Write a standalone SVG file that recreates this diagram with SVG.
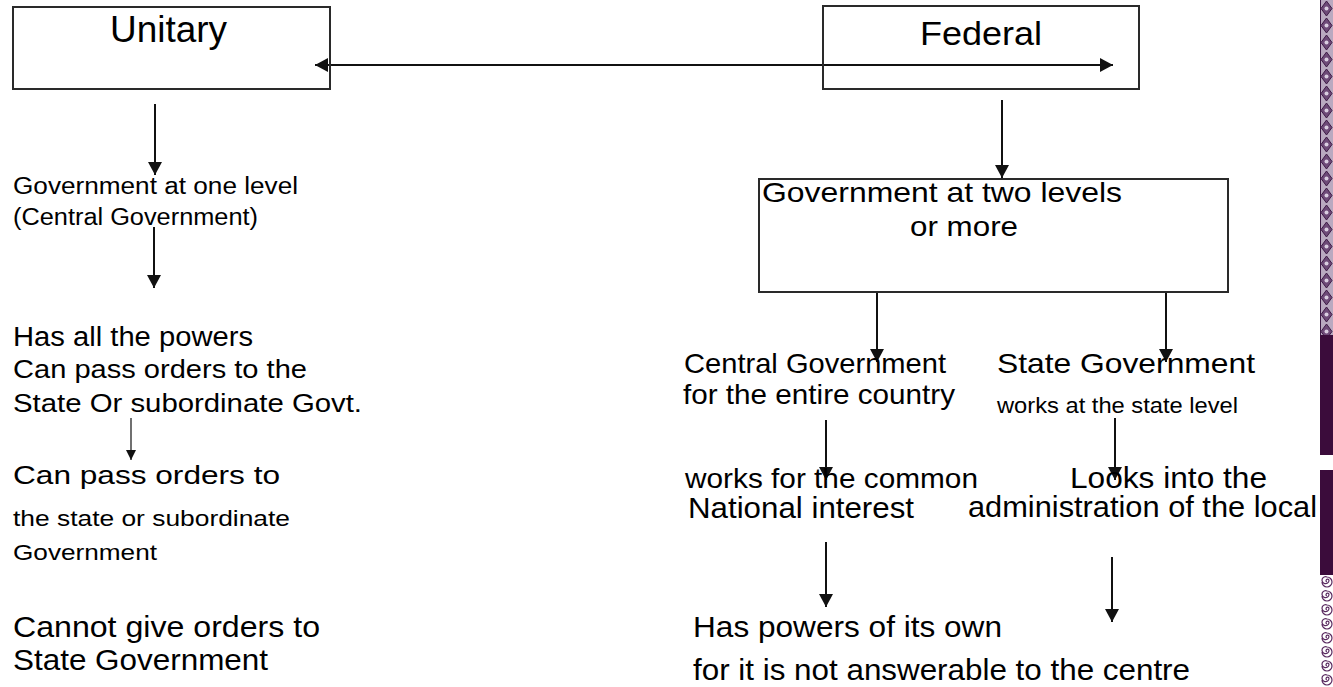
<svg xmlns="http://www.w3.org/2000/svg" width="1333" height="687" viewBox="0 0 1333 687">
<style>
text{font-family:"Liberation Sans",Arial,sans-serif;fill:#000}
.box{fill:none;stroke:#2a2a2a;stroke-width:2}
.ar{stroke:#111;stroke-width:2;fill:none;marker-end:url(#ah)}
.ars{stroke:#111;stroke-width:1.2;fill:none;marker-end:url(#ahs)}
</style>
<defs>
<marker id="ah" markerUnits="userSpaceOnUse" markerWidth="14" markerHeight="14" refX="13" refY="7" orient="auto-start-reverse"><path d="M0,0 L13,7 L0,14 z" fill="#111"/></marker>
<marker id="ahs" markerUnits="userSpaceOnUse" markerWidth="10" markerHeight="10" refX="10" refY="5" orient="auto"><path d="M0,0 L10,5 L0,10 z" fill="#111"/></marker>
<pattern id="tiles" patternUnits="userSpaceOnUse" x="1320" y="0" width="13" height="17">
<rect width="13" height="17" fill="#b9a9c0"/>
<path d="M6.5,1 L12,8.5 L6.5,16 L1,8.5 z" fill="#6e4a78" stroke="#3d1a45" stroke-width="1"/>
<circle cx="6.5" cy="8.5" r="2" fill="#d9cde0"/>
</pattern>
<pattern id="spir" patternUnits="userSpaceOnUse" x="1320" y="575" width="13" height="14">
<rect width="13" height="14" fill="#fff"/>
<path d="M7,7 a1.5,1.5 0 1,1 2,-1.5 a3.5,3.5 0 1,1 -2,-3.5 a5,5 0 1,1 -5,5" fill="none" stroke="#5a2a60" stroke-width="1.2"/>
</pattern>
</defs>

<g id="strip">
<rect x="1320" y="0" width="13" height="335" fill="url(#tiles)"/>
<line x1="1320.5" y1="0" x2="1320.5" y2="335" stroke="#3d1a45" stroke-width="1"/>
<rect x="1320" y="335" width="13" height="120" fill="#3b0c3b"/>
<rect x="1320" y="470" width="13" height="105" fill="#3b0c3b"/>
<rect x="1320" y="575" width="13" height="112" fill="url(#spir)"/>
</g>

<g id="connectors">
<line class="ar" x1="315" y1="65" x2="1113" y2="65" marker-start="url(#ah)"/>
<line class="ar" x1="155" y1="104" x2="155" y2="175"/>
<line class="ar" x1="154" y1="227" x2="154" y2="288"/>
<line class="ars" x1="131" y1="418" x2="131" y2="460"/>
<line class="ar" x1="1002" y1="100" x2="1002" y2="178"/>
<line class="ar" x1="877" y1="292" x2="877" y2="362"/>
<line class="ar" x1="1166" y1="292" x2="1166" y2="362"/>
<line class="ar" x1="826" y1="420" x2="826" y2="480"/>
<line class="ar" x1="1115" y1="418" x2="1115" y2="480"/>
<line class="ar" x1="826" y1="542" x2="826" y2="607"/>
<line class="ar" x1="1112" y1="557" x2="1112" y2="622"/>
</g>

<g id="unitary">
<rect class="box" x="13" y="7" width="317" height="82"/>
<text x="110" y="42" font-size="36" textLength="117" lengthAdjust="spacingAndGlyphs">Unitary</text>
</g>

<g id="federal">
<rect class="box" x="823" y="6" width="316" height="83"/>
<text x="920" y="45" font-size="34" textLength="122" lengthAdjust="spacingAndGlyphs">Federal</text>
</g>

<g id="unitary-chain">
<text x="13" y="194" font-size="23" textLength="285" lengthAdjust="spacingAndGlyphs">Government at one level</text>
<text x="13" y="225" font-size="23" textLength="245" lengthAdjust="spacingAndGlyphs">(Central Government)</text>
<text x="13" y="346" font-size="27" textLength="240" lengthAdjust="spacingAndGlyphs">Has all the powers</text>
<text x="13" y="378" font-size="26" textLength="294" lengthAdjust="spacingAndGlyphs">Can pass orders to the</text>
<text x="13" y="412" font-size="26" textLength="349" lengthAdjust="spacingAndGlyphs">State Or subordinate Govt.</text>
<text x="13" y="484" font-size="26" textLength="267" lengthAdjust="spacingAndGlyphs">Can pass orders to</text>
<text x="13" y="526" font-size="22" textLength="277" lengthAdjust="spacingAndGlyphs">the state or subordinate</text>
<text x="13" y="560" font-size="22" textLength="144" lengthAdjust="spacingAndGlyphs">Government</text>
<text x="13" y="637" font-size="29" textLength="307" lengthAdjust="spacingAndGlyphs">Cannot give orders to</text>
<text x="13" y="670" font-size="29" textLength="255" lengthAdjust="spacingAndGlyphs">State Government</text>
</g>

<g id="two-levels">
<rect class="box" x="759" y="179" width="469" height="113"/>
<text x="762" y="202" font-size="28" textLength="360" lengthAdjust="spacingAndGlyphs">Government at two levels</text>
<text x="910" y="236" font-size="28" textLength="108" lengthAdjust="spacingAndGlyphs">or more</text>
</g>

<g id="central">
<text x="684" y="373" font-size="28" textLength="262" lengthAdjust="spacingAndGlyphs">Central Government</text>
<text x="683" y="404" font-size="28" textLength="272" lengthAdjust="spacingAndGlyphs">for the entire country</text>
<text x="685" y="488" font-size="28" textLength="293" lengthAdjust="spacingAndGlyphs">works for the common</text>
<text x="688" y="518" font-size="29" textLength="226" lengthAdjust="spacingAndGlyphs">National interest</text>
<text x="693" y="637" font-size="29" textLength="309" lengthAdjust="spacingAndGlyphs">Has powers of its own</text>
<text x="693" y="680" font-size="29" textLength="497" lengthAdjust="spacingAndGlyphs">for it is not answerable to the centre</text>
</g>

<g id="state">
<text x="997" y="373" font-size="28" textLength="258" lengthAdjust="spacingAndGlyphs">State Government</text>
<text x="997" y="413" font-size="22" textLength="241" lengthAdjust="spacingAndGlyphs">works at the state level</text>
<text x="1070" y="488" font-size="29" textLength="197" lengthAdjust="spacingAndGlyphs">Looks into the</text>
<text x="968" y="517" font-size="29" textLength="349" lengthAdjust="spacingAndGlyphs">administration of the local</text>
</g>
</svg>
